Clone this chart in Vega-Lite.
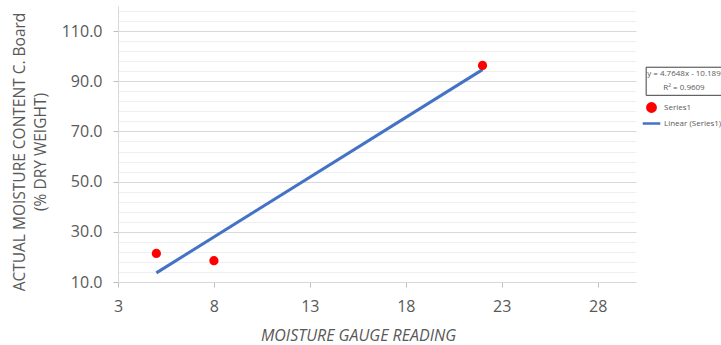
{
  "$schema": "https://vega.github.io/schema/vega-lite/v6.json",
  "autosize": "none",
  "width": 518,
  "height": 276,
  "padding": {"left": 118, "top": 6, "right": 85, "bottom": 63},
  "background": "white",
  "config": {
    "view": {"stroke": null},
    "font": "Open Sans",
    "axis": {"labelColor": "#595959", "titleColor": "#595959", "labelFont": "Open Sans", "titleFont": "Open Sans", "titleFontWeight": "normal"}
  },
  "data": {"values": [
    {"reading": 5, "moisture": 21.4, "series": "Series1"},
    {"reading": 8, "moisture": 18.5, "series": "Series1"},
    {"reading": 22, "moisture": 96.3, "series": "Series1"}
  ]},
  "layer": [
    {
      "transform": [{"regression": "moisture", "on": "reading", "extent": [5, 22]}],
      "mark": {"type": "line", "strokeWidth": 3},
      "encoding": {
        "x": {"field": "reading", "type": "quantitative",
          "scale": {"domain": [3, 30], "nice": false, "zero": false},
          "axis": {"values": [3, 8, 13, 18, 23, 28], "grid": false, "title": "MOISTURE GAUGE READING",
            "titleFontStyle": "italic", "titleFontSize": 16, "titleX": 240, "titleY": 58, "titleBaseline": "alphabetic",
            "labelFontSize": 16, "labelPadding": 11, "tickSize": 5, "tickColor": "#bfbfbf", "domainColor": "#d9d9d9", "labelFlush": false}},
        "y": {"field": "moisture", "type": "quantitative",
          "scale": {"domain": [10, 120], "nice": false, "zero": false},
          "axis": {"values": [10,14,18,22,26,30,34,38,42,46,50,54,58,62,66,70,74,78,82,86,90,94,98,102,106,110,114,118],
            "tickCount": 200,
            "labelExpr": "(datum.value - 10) % 20 === 0 ? format(datum.value, '.1f') : ''",
            "labelOverlap": false, "labelFontSize": 16, "labelPadding": 11, "tickSize": 5,
            "tickColor": "#bfbfbf",
            "tickOpacity": {"condition": {"test": "(datum.value - 10) % 20 !== 0", "value": 0}, "value": 1},
            "gridColor": {"condition": {"test": "(datum.value - 10) % 20 === 0", "value": "#d9d9d9"}, "value": "#efefef"},
            "domainColor": "#d9d9d9",
            "title": ["ACTUAL MOISTURE CONTENT C. Board", "(% DRY WEIGHT)"],
            "titleFontSize": 15.5, "titleLineHeight": 21.5, "titleAngle": -90, "titleX": -99, "titleY": 145.5,
            "titleAlign": "center", "titleBaseline": "middle"}},
        "color": {"datum": "Linear (Series1)", "type": "nominal", "title": null,
          "scale": {"domain": ["Series1", "Linear (Series1)"], "range": ["#FF0000", "#4472C4"]},
          "legend": {"title": null, "orient": "none", "legendX": 528, "legendY": 96, "padding": 0,
            "labelFontSize": 8, "labelColor": "#595959", "labelFont": "Open Sans", "rowPadding": 1, "labelOffset": 7,
            "symbolSize": 70,
            "encode": {"symbols": {"update": {
              "shape": {"signal": "datum.value === 'Series1' ? 'circle' : 'M-2.1,0H2.1'"},
              "size": {"value": 70},
              "stroke": {"signal": "datum.value === 'Series1' ? 'transparent' : '#4472C4'"},
              "fill": {"signal": "datum.value === 'Series1' ? '#FF0000' : 'transparent'"},
              "strokeWidth": {"value": 2.5}}}}}}
      }
    },
    {
      "mark": {"type": "point", "filled": true, "opacity": 1, "size": 85},
      "encoding": {
        "x": {"field": "reading", "type": "quantitative"},
        "y": {"field": "moisture", "type": "quantitative"},
        "color": {"field": "series", "type": "nominal", "title": null}
      }
    },
    {
      "data": {"values": [{}]},
      "mark": {"type": "rect", "fill": "white", "stroke": "#404040", "strokeWidth": 1},
      "encoding": {
        "x": {"datum": 30.53, "type": "quantitative"},
        "x2": {"datum": 35},
        "y": {"datum": 95.6, "type": "quantitative"},
        "y2": {"datum": 84.4}
      }
    },
    {
      "data": {"values": [{}]},
      "mark": {"type": "text", "fontSize": 8, "color": "#595959", "align": "center", "baseline": "middle", "font": "Open Sans"},
      "encoding": {
        "x": {"datum": 32.5, "type": "quantitative"},
        "y": {"datum": 92.8, "type": "quantitative"},
        "text": {"value": "y = 4.7648x - 10.189"}
      }
    },
    {
      "data": {"values": [{}]},
      "mark": {"type": "text", "fontSize": 8, "color": "#595959", "align": "center", "baseline": "middle", "font": "Open Sans"},
      "encoding": {
        "x": {"datum": 32.5, "type": "quantitative"},
        "y": {"datum": 87.2, "type": "quantitative"},
        "text": {"value": "R² = 0.9609"}
      }
    }
  ]
}
